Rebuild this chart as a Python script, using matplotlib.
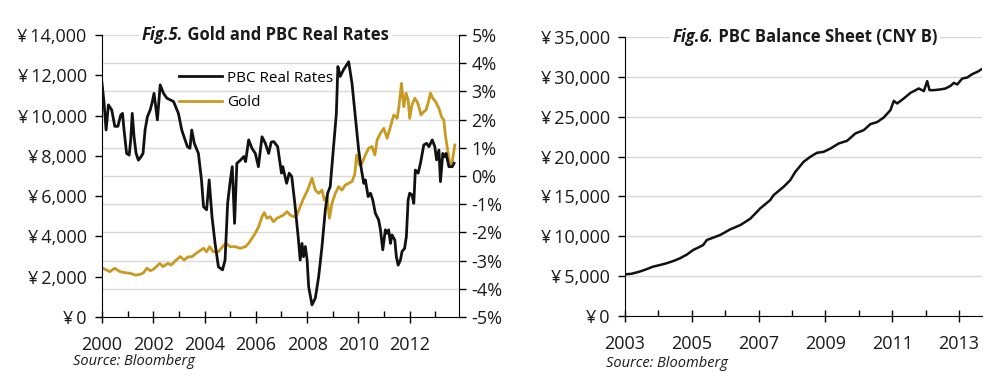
import matplotlib
matplotlib.use("Agg")
import matplotlib.pyplot as plt
from matplotlib.ticker import MultipleLocator, FuncFormatter

plt.rcParams['font.family'] = ['Open Sans', 'DejaVu Sans']
plt.rcParams['axes.unicode_minus'] = False

# --- Fig.5: PBC real rates (%, right axis) ---
rate_years = [2000.00, 2000.08, 2000.16, 2000.25, 2000.38, 2000.50, 2000.62, 2000.73, 2000.80, 2000.86,
              2000.96, 2001.06, 2001.12, 2001.18, 2001.25, 2001.33, 2001.42, 2001.52, 2001.60, 2001.68,
              2001.77, 2001.88, 2001.95, 2002.03, 2002.16, 2002.27, 2002.40, 2002.53, 2002.66, 2002.79,
              2002.98, 2003.11, 2003.33, 2003.43, 2003.50, 2003.60, 2003.76, 2003.88, 2003.96, 2004.08,
              2004.18, 2004.29, 2004.41, 2004.54, 2004.70, 2004.80, 2004.90, 2004.99, 2005.08, 2005.17,
              2005.26, 2005.40, 2005.53, 2005.60, 2005.72, 2005.85, 2005.98, 2006.10, 2006.24, 2006.37,
              2006.50, 2006.60, 2006.70, 2006.85, 2007.00, 2007.05, 2007.20, 2007.30, 2007.40, 2007.52,
              2007.65, 2007.73, 2007.80, 2007.86, 2007.93, 2008.00, 2008.06, 2008.19, 2008.32, 2008.45,
              2008.58, 2008.71, 2008.80, 2008.90, 2009.03, 2009.14, 2009.20, 2009.29, 2009.42, 2009.62,
              2009.75, 2009.88, 2010.01, 2010.12, 2010.21, 2010.27, 2010.38, 2010.47, 2010.56, 2010.66,
              2010.79, 2010.86, 2010.95, 2011.05, 2011.12, 2011.18, 2011.25, 2011.31, 2011.42, 2011.48,
              2011.55, 2011.64, 2011.70, 2011.80, 2011.87, 2011.94, 2012.00, 2012.09, 2012.16, 2012.22,
              2012.33, 2012.42, 2012.55, 2012.66, 2012.75, 2012.88, 2012.98, 2013.05, 2013.14, 2013.20,
              2013.29, 2013.37, 2013.42, 2013.53, 2013.66, 2013.73]
rate_values = [3.30, 2.60, 1.63, 2.52, 2.34, 1.76, 1.76, 2.16, 2.22, 1.63,
               0.80, 0.74, 1.27, 2.22, 1.39, 0.80, 0.56, 0.68, 0.80, 1.63,
               2.10, 2.34, 2.58, 2.93, 1.99, 3.23, 2.93, 2.76, 2.70, 2.64,
               2.22, 1.63, 1.04, 0.98, 1.63, 1.16, 0.80, -0.14, -1.09, -1.20,
               -0.14, -1.44, -2.39, -3.22, -3.33, -2.98, -0.97, -0.26, 0.33, -1.68,
               0.45, 0.56, 0.69, 0.51, 1.28, 0.98, 0.80, 0.33, 1.39, 1.16,
               0.80, 1.20, 1.22, 1.04, 0.10, 0.33, -0.26, 0.10, -0.02, -0.97,
               -2.15, -2.98, -2.39, -2.86, -2.50, -2.98, -3.93, -4.57, -4.33, -3.57,
               -2.50, -1.20, -0.61, -0.38, 1.04, 2.22, 3.88, 3.53, 3.77, 4.05,
               3.29, 2.10, 0.92, 0.21, -0.26, -0.14, -0.73, -0.61, -0.85, -1.32,
               -1.56, -1.91, -2.62, -1.91, -2.03, -1.91, -2.39, -2.09, -2.27, -2.86,
               -3.16, -2.98, -2.68, -2.57, -2.15, -0.85, -0.61, -0.67, -0.97, 0.21,
               0.10, 0.45, 1.10, 1.16, 1.04, 1.28, 1.04, 0.57, 0.92, -0.20,
               0.80, 0.68, 0.80, 0.33, 0.33, 0.45]

# --- Fig.5: gold price (CNY, left axis) ---
gold_years = [2000.03, 2000.18, 2000.30, 2000.50, 2000.70, 2000.90, 2001.10, 2001.30, 2001.50, 2001.62,
              2001.75, 2001.88, 2002.00, 2002.12, 2002.25, 2002.38, 2002.57, 2002.70, 2002.83, 2003.05,
              2003.20, 2003.37, 2003.50, 2003.76, 2003.96, 2004.08, 2004.20, 2004.33, 2004.54, 2004.70,
              2004.83, 2005.00, 2005.20, 2005.39, 2005.59, 2005.72, 2005.85, 2005.98, 2006.11, 2006.24,
              2006.33, 2006.43, 2006.56, 2006.69, 2006.82, 2006.95, 2007.08, 2007.21, 2007.34, 2007.47,
              2007.60, 2007.73, 2007.86, 2008.02, 2008.19, 2008.32, 2008.45, 2008.58, 2008.67, 2008.78,
              2008.87, 2008.97, 2009.10, 2009.23, 2009.36, 2009.49, 2009.62, 2009.75, 2009.86, 2009.93,
              2010.04, 2010.14, 2010.27, 2010.40, 2010.53, 2010.64, 2010.73, 2010.86, 2010.99, 2011.12,
              2011.25, 2011.38, 2011.51, 2011.58, 2011.68, 2011.77, 2011.86, 2011.94, 2012.00, 2012.09,
              2012.20, 2012.29, 2012.36, 2012.44, 2012.55, 2012.64, 2012.75, 2012.81, 2012.90, 2013.01,
              2013.14, 2013.24, 2013.33, 2013.40, 2013.50, 2013.57, 2013.66, 2013.72, 2013.76]
gold_values = [2420, 2330, 2250, 2420, 2250, 2200, 2170, 2080, 2120, 2200,
               2420, 2300, 2360, 2500, 2660, 2500, 2660, 2580, 2750, 3000,
               2830, 2990, 2990, 3240, 3410, 3240, 3490, 3240, 3240, 3490,
               3660, 3490, 3490, 3410, 3490, 3660, 3910, 4160, 4480, 4980,
               5180, 4900, 4980, 4730, 4900, 4980, 5060, 5230, 5060, 4980,
               5060, 5480, 5890, 6300, 6890, 6300, 6140, 6300, 5800, 5970,
               4900, 5640, 6140, 6470, 6300, 6550, 6640, 6720, 7100, 8040,
               7550, 7630, 8040, 8380, 8460, 8040, 8790, 9120, 9370, 8870,
               9450, 10030, 9860, 10440, 11600, 10440, 11110, 10770, 9860, 10530,
               10860, 10690, 10440, 10030, 10190, 10280, 10770, 11110, 10860, 10690,
               10360, 9940, 9780, 8950, 8120, 7550, 7710, 8210, 8540]

# --- Fig.6: PBC balance sheet (CNY B) ---
bs_years = [2003.02, 2003.20, 2003.43, 2003.60, 2003.83, 2004.05, 2004.24, 2004.45, 2004.64, 2004.85,
            2005.04, 2005.20, 2005.34, 2005.45, 2005.65, 2005.85, 2006.15, 2006.45, 2006.75, 2007.05,
            2007.35, 2007.45, 2007.75, 2007.95, 2008.10, 2008.35, 2008.55, 2008.75, 2008.95, 2009.16,
            2009.40, 2009.65, 2009.90, 2010.15, 2010.35, 2010.55, 2010.75, 2010.95, 2011.05, 2011.15,
            2011.35, 2011.55, 2011.80, 2011.95, 2012.05, 2012.12, 2012.25, 2012.45, 2012.60, 2012.75,
            2012.85, 2012.95, 2013.10, 2013.25, 2013.40, 2013.55, 2013.67]
bs_values = [5230, 5300, 5560, 5800, 6180, 6400, 6610, 6900, 7230, 7700,
             8280, 8600, 8900, 9530, 9850, 10160, 10870, 11400, 12200, 13500,
             14550, 15170, 16210, 17050, 18090, 19350, 19980, 20480, 20600, 21030,
             21650, 21980, 22910, 23320, 24080, 24330, 24910, 25830, 27000, 26670,
             27300, 28000, 28550, 28220, 29470, 28340, 28340, 28430, 28550, 28880,
             29260, 29050, 29800, 29930, 30350, 30630, 30940]

BLACK = "#111111"
GOLD = "#C99A22"
GRID = "#D9D9D9"
TXT = "#1a1a1a"
TICK_FS = 13

yen_fmt = FuncFormatter(lambda v, p: "¥\u2009" + f"{v:,.0f}")
pct_fmt = FuncFormatter(lambda v, p: f"{v:.0f}%")


def style_xaxis(ax):
    ax.xaxis.set_major_locator(MultipleLocator(2))
    ax.xaxis.set_minor_locator(MultipleLocator(1))
    ax.xaxis.set_major_formatter(FuncFormatter(lambda v, p: f"{v:.0f}"))
    ax.tick_params(axis='x', which='major', direction='inout', length=8, width=1,
                   labelsize=TICK_FS, labelcolor=TXT, pad=10)
    ax.tick_params(axis='x', which='minor', direction='in', length=4, width=1)


def draw_title(ax, x0, fig_part, rest):
    bb = dict(facecolor='white', edgecolor='none', pad=2)
    t1 = ax.text(x0, 1.0, fig_part, transform=ax.transAxes, fontsize=12,
                 fontweight='bold', style='italic', ha='left', va='center',
                 color=TXT, bbox=bb, zorder=10)
    ax.annotate(rest, xy=(1, 0.5), xycoords=t1, fontsize=12, fontweight='bold',
                ha='left', va='center', color=TXT, bbox=bb, zorder=11,
                annotation_clip=False)


fig = plt.figure(figsize=(9.97, 3.89), dpi=100)
fig.patch.set_facecolor('white')

# === Fig.5 ===
ax = fig.add_axes([0.1023, 0.1851, 0.358, 0.725])
ax.set_xlim(2000, 2013.92)
ax.set_ylim(0, 14000)
ax.yaxis.set_major_locator(MultipleLocator(2000))
ax.yaxis.set_minor_locator(MultipleLocator(1400))
ax.yaxis.set_major_formatter(yen_fmt)
ax.grid(which='minor', axis='y', color=GRID, linewidth=1)
ax.set_axisbelow(True)
ax.tick_params(axis='y', which='major', direction='out', length=5, width=1,
               labelsize=TICK_FS, labelcolor=TXT, pad=6)
ax.tick_params(axis='y', which='minor', length=0)
style_xaxis(ax)
ax.spines['top'].set_visible(False)
ax.spines['right'].set_visible(False)
ax.axhline(14000, color=GRID, linewidth=1, zorder=0)
gold_line, = ax.plot(gold_years, gold_values, color=GOLD, linewidth=2, label='Gold', zorder=2)

ax2 = ax.twinx()
ax2.set_ylim(-5, 5)
ax2.yaxis.set_major_locator(MultipleLocator(1))
ax2.yaxis.set_major_formatter(pct_fmt)
ax2.tick_params(axis='y', direction='out', length=5, width=1,
                labelsize=TICK_FS, labelcolor=TXT, pad=4)
ax2.spines['top'].set_visible(False)
ax2.spines['left'].set_visible(False)
ax2.spines['bottom'].set_visible(False)
rate_line, = ax2.plot(rate_years, rate_values, color=BLACK, linewidth=2, label='PBC Real Rates')

ax2.legend(handles=[rate_line, gold_line], loc='upper left', bbox_to_anchor=(0.2, 0.895),
           frameon=False, fontsize=11, handlelength=2.8, handletextpad=0.3,
           labelspacing=0.6, borderaxespad=0)
draw_title(ax2, 0.112, "Fig.5.", " Gold and PBC Real Rates")

fig.text(0.073, 0.07, "Source: Bloomberg", fontsize=10.5, style='italic', color=TXT,
         ha='left', va='center')

# === Fig.6 ===
bx = fig.add_axes([0.6269, 0.1877, 0.358, 0.717])
bx.set_xlim(2003, 2013.69)
bx.set_ylim(0, 35000)
bx.yaxis.set_major_locator(MultipleLocator(5000))
bx.yaxis.set_major_formatter(yen_fmt)
bx.grid(which='major', axis='y', color=GRID, linewidth=1)
bx.set_axisbelow(True)
bx.tick_params(axis='y', direction='out', length=5, width=1,
               labelsize=TICK_FS, labelcolor=TXT, pad=6)
style_xaxis(bx)
bx.set_xticks([2003, 2005, 2007, 2009, 2011, 2013])
bx.spines['top'].set_visible(False)
bx.spines['right'].set_visible(False)
bx.plot(bs_years, bs_values, color=BLACK, linewidth=1.8)
draw_title(bx, 0.134, "Fig.6.", " PBC Balance Sheet (CNY B)")

fig.text(0.608, 0.065, "Source: Bloomberg", fontsize=10.5, style='italic', color=TXT,
         ha='left', va='center')

fig.savefig("out.png", dpi=100, facecolor='white')
